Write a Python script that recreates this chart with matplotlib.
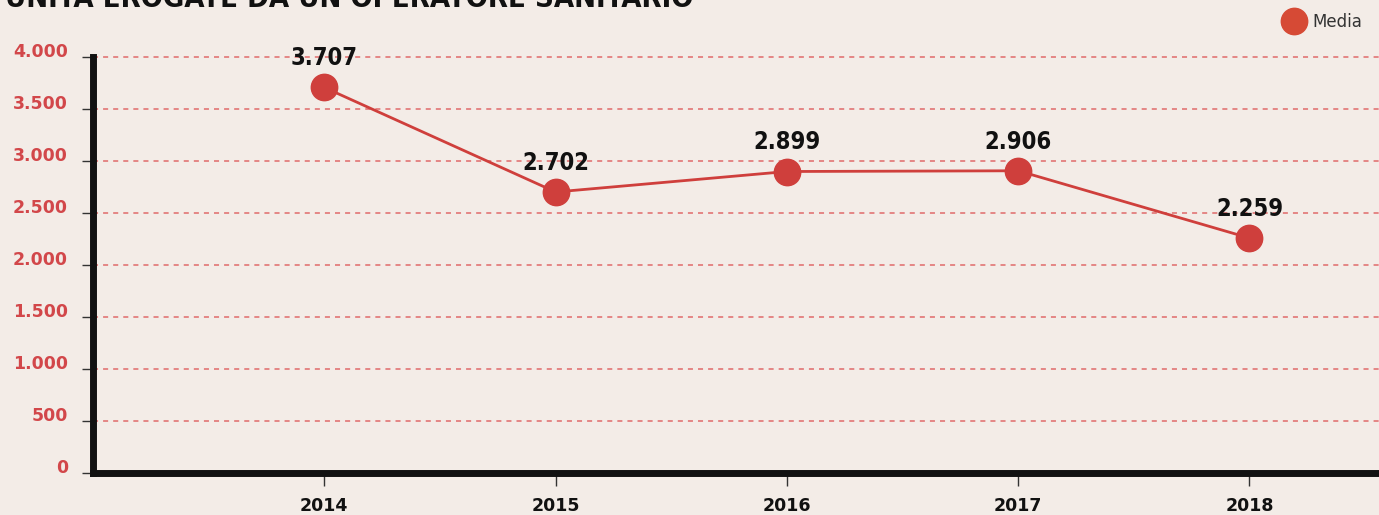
import matplotlib.pyplot as plt
from matplotlib.lines import Line2D
from matplotlib import font_manager
from matplotlib.font_manager import FontProperties

years = [2014, 2015, 2016, 2017, 2018]
media = [3707, 2702, 2899, 2906, 2259]
value_labels = ['3.707', '2.702', '2.899', '2.906', '2.259']
y_ticks = [0, 500, 1000, 1500, 2000, 2500, 3000, 3500, 4000]
y_tick_labels = ['0', '500', '1.000', '1.500', '2.000', '2.500', '3.000', '3.500', '4.000']
title = "UNITÀ EROGATE DA UN OPERATORE SANITARIO"

BG = '#f3ece7'
RED = '#cf3f3c'
AXRED = '#d2474a'


def condensed_font():
    # look for a bold condensed/narrow face, else fall back to DejaVu
    best = None
    for f in font_manager.fontManager.ttflist:
        narrow = ('Condensed' in f.name or 'Narrow' in f.name
                  or f.stretch in ('condensed', 'semi-condensed', 'extra-condensed'))
        if not narrow:
            continue
        w = f.weight if isinstance(f.weight, int) else 400
        if best is None or abs(w - 700) < abs(best[0] - 700):
            best = (w, f.fname)
    if best:
        return FontProperties(fname=best[1]), True
    return FontProperties(family='DejaVu Sans', weight='bold'), False


cond, found = condensed_font()

W, H = 1379, 515
fig = plt.figure(figsize=(W / 100, H / 100), dpi=100, facecolor=BG)
ax = fig.add_axes([93 / W, (H - 473) / H, (W - 93) / W, (473 - 57) / H])
ax.set_facecolor(BG)

ax.plot(years, media, color=RED, lw=2, marker='o', ms=19, mec=RED, mfc=RED, zorder=3)
lab_size = 17 if found else 14.5
for x, v, s in zip(years, media, value_labels):
    fp = cond.copy()
    fp.set_size(lab_size)
    ax.annotate(s, (x, v), xytext=(0, 21), textcoords='offset points',
                ha='center', va='center', fontproperties=fp, color='#111111')

ax.set_xlim(2013.0, 2018.56)
ax.set_ylim(0, 4000)
ax.set_xticks(years)
ax.set_xticklabels([str(y) for y in years], fontsize=12.5, fontweight='bold', color='#111111')
ax.set_yticks(y_ticks)
ax.set_yticklabels(y_tick_labels, fontsize=12.5, fontweight='bold', color=AXRED)
for lab in ax.get_yticklabels():
    lab.set_verticalalignment('baseline')
ax.tick_params(axis='x', length=9, width=1, color='#333333', pad=8)
ax.tick_params(axis='y', length=8, width=1, color='#333333', pad=10)

for y in y_ticks[1:]:
    ax.axhline(y, color='#e06a6a', lw=1.1, ls=(0, (3.3, 3.3)), zorder=1, clip_on=False)

for side in ['top', 'right']:
    ax.spines[side].set_visible(False)
ax.spines['left'].set_linewidth(5)
ax.spines['bottom'].set_linewidth(5)
ax.spines['left'].set_color('#111111')
ax.spines['bottom'].set_color('#111111')

handle = Line2D([], [], marker='o', ls='none', ms=19, color='#d64a35')
fig.legend([handle], ['Media'], loc='center right', bbox_to_anchor=(1.0, 1 - 22 / H),
           frameon=False, fontsize=12, labelcolor='#333333', handletextpad=0.1,
           borderaxespad=0.6)

tp = cond.copy()
tp.set_size(21 if found else 18.5)
fig.text(5 / W, 1 - 7 / H, title, fontproperties=tp, color='#111111',
         va='baseline', ha='left')

fig.savefig('out.png', dpi=100, facecolor=BG)
